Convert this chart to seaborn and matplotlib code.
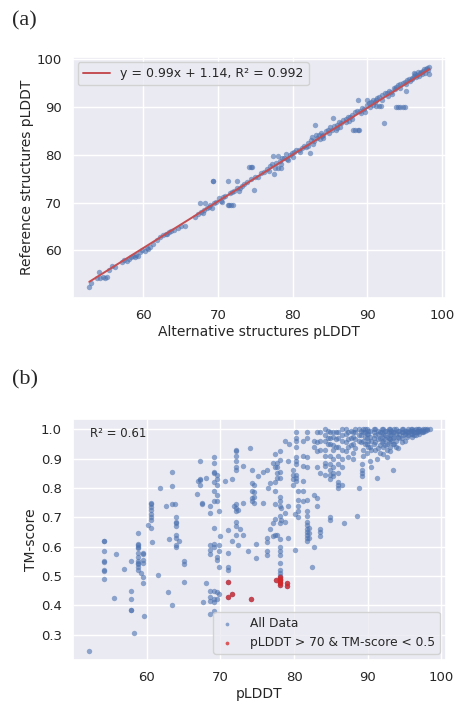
import numpy as np
import pandas as pd
import matplotlib
matplotlib.use("Agg")
import matplotlib.pyplot as plt
import seaborn as sns

# ---------------- Panel (a) data ----------------
alt_plddt = [
    52.8, 53.0, 53.8, 54.1, 54.3, 54.6, 54.9, 55.2, 55.8, 56.2,
    57.2, 57.5, 57.8, 58.1, 58.4, 58.7, 59.0, 59.3, 59.6, 59.9,
    60.2, 60.5, 60.9, 61.3, 61.8, 62.2, 62.6, 63.0, 63.4, 63.8,
    64.2, 64.7, 65.1, 65.6, 66.9, 67.3, 67.6, 67.8, 68.1, 68.3,
    68.5, 68.8, 69.0, 69.3, 69.4, 69.5, 69.8, 70.1, 70.4, 70.7,
    71.0, 71.3, 71.5, 71.7, 72.0, 71.4, 71.6, 71.9, 72.2, 72.5,
    72.6, 72.9, 73.2, 73.5, 73.9, 74.2, 74.4, 74.6, 74.5, 74.9,
    75.0, 75.4, 75.8, 76.2, 76.6, 77.0, 77.2, 77.4, 77.5, 77.8,
    78.0, 78.1, 78.3, 78.5, 78.6, 78.9, 79.1, 79.3, 79.6, 79.9,
    80.2, 80.5, 80.8, 81.2, 81.5, 81.8, 82.1, 82.3, 82.4, 82.6,
    82.8, 83.0, 83.1, 83.3, 83.5, 83.8, 84.1, 84.4, 84.7, 85.0,
    85.2, 85.4, 85.6, 85.9, 86.2, 86.5, 86.8, 87.1, 87.4, 87.7,
    87.9, 88.1, 88.4, 88.7, 88.9, 88.3, 88.6, 88.8, 89.0, 89.3,
    89.6, 89.9, 90.0, 90.2, 90.5, 90.8, 91.0, 91.2, 91.5, 91.8,
    91.3, 91.6, 91.9, 92.2, 92.3, 92.6, 92.9, 93.2, 93.5, 93.8,
    94.1, 94.4, 94.8, 95.0, 93.8, 94.1, 94.4, 94.7, 95.0, 95.1,
    95.3, 95.6, 95.9, 96.2, 96.4, 96.7, 97.0, 97.2, 97.5, 97.8,
    98.0, 98.2, 98.3, 80.1, 81.0, 82.0, 83.6, 84.0, 84.9, 85.8,
    86.4, 87.2, 88.0, 89.2, 89.7, 90.4, 91.1, 92.0, 92.8, 93.3,
    93.7, 94.3, 95.2, 95.7, 96.0, 96.5, 96.9, 97.3, 97.7, 98.1,
    96.3, 96.8, 97.6, 90.7, 87.6, 86.0, 83.9, 82.7, 79.4, 78.4,
    77.6, 76.9, 70.6, 72.8, 69.2, 68.0, 58.9, 60.7, 63.2, 55.5,
]
ref_plddt = [
    52.3, 53.2, 54.3, 55.6, 54.3, 54.4, 54.3, 54.4, 56.8, 56.5,
    57.6, 58.0, 57.7, 58.3, 58.7, 58.9, 59.1, 58.9, 59.6, 60.1,
    59.8, 60.6, 60.7, 61.4, 62.3, 62.8, 63.2, 63.5, 63.9, 64.1,
    64.3, 64.8, 65.2, 65.2, 67.1, 67.6, 70.0, 68.0, 68.4, 70.0,
    68.9, 69.2, 69.6, 74.5, 74.5, 70.0, 70.2, 71.0, 70.4, 71.2,
    71.5, 69.6, 69.6, 69.6, 69.6, 74.5, 72.0, 72.3, 72.5, 73.1,
    74.5, 73.0, 73.6, 74.0, 74.3, 77.5, 77.5, 77.5, 74.9, 72.7,
    75.3, 75.4, 76.3, 76.5, 77.0, 77.6, 78.2, 79.8, 76.1, 78.3,
    79.8, 77.3, 78.8, 78.1, 79.4, 79.3, 80.3, 79.2, 80.0, 80.4,
    80.6, 81.1, 81.0, 81.4, 81.9, 81.6, 82.6, 80.5, 83.1, 83.7,
    82.9, 86.3, 84.2, 83.5, 84.1, 84.5, 84.2, 85.0, 85.3, 85.8,
    85.2, 87.7, 86.1, 86.3, 86.8, 86.7, 87.3, 87.5, 88.0, 87.9,
    88.3, 85.2, 85.2, 85.2, 85.2, 88.9, 89.1, 91.5, 89.3, 89.8,
    89.6, 90.4, 91.5, 90.8, 91.1, 91.4, 91.0, 90.2, 90.2, 90.2,
    92.0, 92.1, 92.5, 86.6, 92.9, 93.0, 93.4, 93.2, 94.1, 90.1,
    90.1, 90.1, 90.1, 90.1, 94.2, 94.6, 94.9, 95.0, 95.3, 93.3,
    95.6, 96.0, 96.2, 96.5, 96.9, 96.8, 97.1, 97.3, 97.6, 97.9,
    98.1, 98.4, 97.0, 79.6, 80.7, 81.8, 83.3, 83.6, 84.6, 85.3,
    85.9, 86.8, 87.6, 88.8, 89.0, 90.0, 91.6, 91.6, 92.4, 92.8,
    93.9, 94.0, 94.8, 95.4, 95.8, 96.3, 96.5, 97.0, 97.2, 97.7,
    97.1, 97.4, 98.0, 90.5, 87.2, 85.6, 83.9, 82.3, 78.9, 77.2,
    77.2, 76.6, 70.2, 72.4, 68.9, 67.8, 58.7, 60.4, 63.4, 55.9,
]
fit_label = "y = 0.99x + 1.14, R\u00b2 = 0.992"

# ---------------- Panel (b) data (grouped by pLDDT column) ----------------
col_plddt = [
    52.2, 54.2, 55.6, 55.9, 56.9, 57.9, 58.3, 58.8, 59.3, 59.5,
    59.6, 60.2, 60.6, 60.8, 61.5, 61.8, 62.6, 62.9, 63.1, 63.4,
    63.8, 64.0, 64.4, 65.1, 66.8, 67.0, 67.3, 67.5, 68.0, 67.7,
    68.6, 69.1, 69.5, 69.8, 70.0, 70.7, 71.0, 71.6, 71.9, 72.2,
    72.4, 72.7, 73.1, 73.8, 74.0, 74.2, 74.3, 74.6, 74.8, 75.1,
    75.8, 76.3, 76.5, 76.8, 77.1, 77.4, 77.6, 77.7, 78.1, 78.3,
    78.8, 79.1, 79.2, 79.3, 79.8, 80.1, 80.3, 80.6, 81.2, 81.7,
    82.0, 82.4, 82.7, 83.1, 83.5, 84.2, 84.9, 85.3, 86.0, 86.5,
    86.8, 87.3, 88.0, 88.5, 88.8, 89.2, 89.4, 89.9, 90.3, 90.5,
    91.0, 91.2, 91.6, 92.1, 92.6, 93.0, 93.4, 93.8, 94.1, 94.6,
    95.0, 95.5, 96.0, 96.5, 97.0, 97.5, 98.0, 98.4,
    84.6, 85.7, 87.0, 87.7, 88.3, 89.1, 89.6, 90.1, 90.8, 91.4,
    91.9, 92.4, 92.9, 93.2, 93.6, 94.3, 94.8, 95.3, 95.8, 96.3,
    96.8, 97.3, 97.8,
]
col_tm = [
    [0.245],
    [0.62, 0.618, 0.585, 0.55, 0.548, 0.52, 0.518, 0.49],
    [0.425],
    [0.575],
    [0.525],
    [0.55, 0.45, 0.42, 0.385, 0.383],
    [0.305],
    [0.645, 0.61, 0.605, 0.60, 0.595, 0.58, 0.565, 0.55, 0.545, 0.54, 0.53, 0.52],
    [0.51],
    [0.578, 0.575, 0.555, 0.545, 0.495, 0.475],
    [0.365],
    [0.675],
    [0.75, 0.745, 0.735, 0.725, 0.71, 0.70, 0.69, 0.665],
    [0.615],
    [0.505],
    [0.80],
    [0.74],
    [0.445],
    [0.625],
    [0.855, 0.805, 0.745, 0.40],
    [0.745],
    [0.70, 0.685, 0.68, 0.67, 0.64, 0.63, 0.605, 0.60],
    [0.62],
    [0.55, 0.54, 0.48],
    [0.78],
    [0.825],
    [0.89, 0.83, 0.828, 0.81],
    [0.745, 0.75],
    [0.835, 0.475],
    [0.41],
    [0.74, 0.715, 0.605, 0.59, 0.575, 0.45, 0.43, 0.415, 0.37],
    [0.905, 0.885, 0.855, 0.85, 0.82, 0.79, 0.755, 0.665, 0.61, 0.60, 0.45, 0.42, 0.41, 0.38],
    [0.845, 0.83, 0.81, 0.775, 0.755, 0.565, 0.555, 0.445, 0.42],
    [0.72, 0.605, 0.585, 0.53, 0.44],
    [0.635],
    [0.825],
    [0.655, 0.58, 0.53, 0.52, 0.48, 0.43],
    [0.83, 0.62, 0.44],
    [0.74],
    [0.93, 0.925, 0.91, 0.89, 0.87, 0.86, 0.745, 0.73, 0.72, 0.685, 0.67, 0.64],
    [0.725, 0.605],
    [0.66],
    [0.875, 0.75, 0.64],
    [0.585],
    [0.935],
    [0.42],
    [0.86, 0.815, 0.79, 0.765, 0.755],
    [0.81, 0.785, 0.77, 0.75],
    [0.61, 0.56],
    [0.84],
    [0.855, 0.75],
    [0.86, 0.63, 0.615, 0.585, 0.57],
    [0.80],
    [0.815, 0.66],
    [0.885, 0.68, 0.635],
    [0.915, 0.87, 0.82, 0.79, 0.745, 0.695, 0.64],
    [0.488],
    [0.885, 0.87, 0.85, 0.835, 0.64],
    [0.925, 0.895, 0.855, 0.835, 0.77, 0.755, 0.74, 0.705, 0.68, 0.625, 0.60, 0.585,
     0.57, 0.545, 0.52, 0.51, 0.50, 0.495, 0.49, 0.485, 0.48, 0.475, 0.47],
    [0.73, 0.69],
    [0.96, 0.715, 0.685],
    [0.475, 0.465],
    [0.89, 0.74, 0.63],
    [0.95],
    [0.86, 0.845, 0.83, 0.81],
    [0.59, 0.71],
    [0.99, 0.97, 0.96, 0.94, 0.905, 0.89, 0.88, 0.845, 0.835, 0.825],
    [0.79, 0.76, 0.74, 0.72, 0.70],
    [0.96, 0.91, 0.875, 0.825, 0.79, 0.755],
    [0.99, 0.97, 0.905, 0.87, 0.76, 0.72, 0.705, 0.685, 0.675, 0.66, 0.65, 0.64, 0.63, 0.62],
    [0.665, 0.645, 0.63],
    [0.53],
    [0.96, 0.94, 0.775, 0.60],
    [0.99, 0.955, 0.925, 0.87, 0.765, 0.74],
    [0.99, 0.96, 0.93, 0.85, 0.66, 0.65, 0.635],
    [1.0, 0.98, 0.96, 0.93, 0.91, 0.885, 0.875, 0.845],
    [0.99, 0.97, 0.95, 0.91, 0.88, 0.86, 0.845, 0.83, 0.69, 0.70],
    [0.99, 0.975, 0.945, 0.93, 0.90, 0.87, 0.85, 0.84],
    [0.99, 0.97, 0.94, 0.91, 0.88, 0.85, 0.82, 0.81, 0.80],
    [1.0, 0.98, 0.96, 0.93, 0.90, 0.87, 0.81],
    [0.68],
    [0.99, 0.965, 0.94, 0.905],
    [0.99, 0.975, 0.95, 0.92, 0.90],
    [0.705],
    [0.80, 1.0, 0.98, 0.96],
    [0.88, 0.86, 0.85, 0.84],
    [1.0, 0.99, 0.96, 0.93, 0.91],
    [1.0, 0.985, 0.97, 0.95, 0.92],
    [0.89, 0.995, 0.975, 0.94],
    [0.87, 0.96, 0.93],
    [1.0, 0.98, 0.955, 0.93],
    [0.835, 0.90],
    [0.99, 0.97, 0.945, 0.92],
    [1.0, 0.985, 0.96, 0.94, 0.915],
    [0.995, 0.975, 0.95, 0.93, 0.905],
    [1.0, 0.98, 0.965, 0.94, 0.925],
    [0.86, 0.99, 0.97, 0.95],
    [1.0, 0.985, 0.96, 0.94],
    [0.935, 0.995, 0.975],
    [1.0, 0.99, 0.97, 0.955],
    [0.96, 0.995, 0.985],
    [1.0, 0.99, 0.98],
    [1.0, 0.995, 0.985, 0.975],
    [1.0, 0.99, 0.98],
    [1.0, 0.995, 0.985],
    [1.0, 0.995, 0.99],
    [1.0, 0.998],
    [1.0],
    [0.995, 0.97, 0.95],
    [0.99, 0.965, 0.94],
    [1.0, 0.985, 0.955, 0.925],
    [0.995, 0.97, 0.945],
    [1.0, 0.99, 0.965, 0.935],
    [0.995, 0.98, 0.955],
    [1.0, 0.99, 0.975, 0.95],
    [0.995, 0.985, 0.96, 0.94],
    [1.0, 0.99, 0.97, 0.95],
    [0.995, 0.985, 0.965, 0.935],
    [1.0, 0.99, 0.975, 0.955],
    [0.995, 0.98, 0.965, 0.945],
    [1.0, 0.99, 0.97, 0.955],
    [0.995, 0.985, 0.96],
    [1.0, 0.99, 0.975, 0.95],
    [0.995, 0.985, 0.97],
    [1.0, 0.99, 0.98],
    [0.995, 0.99, 0.975],
    [1.0, 0.995, 0.985],
    [0.998, 0.99, 0.98],
    [1.0, 0.995, 0.99],
    [0.998, 0.99],
    [1.0, 0.995],
]
r2_text = "R\u00b2 = 0.61"
all_label = "All Data"
sub_label = "pLDDT > 70 & TM-score < 0.5"

# ---------------- Build tables ----------------
df_a = pd.DataFrame({"alt": alt_plddt, "ref": ref_plddt})
rows = [(x, t) for x, ts in zip(col_plddt, col_tm) for t in ts]
df_b = pd.DataFrame(rows, columns=["plddt", "tm"])
df_sub = df_b[(df_b["plddt"] > 70) & (df_b["tm"] < 0.5)]

sns.set_theme(style="darkgrid")
plt.rcParams["font.family"] = ["DejaVu Sans"]

blue = "#4C72B0"
fig = plt.figure(figsize=(4.55, 7.04), dpi=100)
ax1 = fig.add_axes([0.160, 0.577, 0.820, 0.342])
ax2 = fig.add_axes([0.160, 0.0625, 0.820, 0.3425])

# Panel (a)
sns.scatterplot(data=df_a, x="alt", y="ref", ax=ax1, color=blue, alpha=0.6,
                s=15, linewidth=0, legend=False)
sns.regplot(data=df_a, x="alt", y="ref", ax=ax1, scatter=False, ci=None,
            color="#C44E52", line_kws={"linewidth": 1.4}, label=fit_label)
ax1.set_xticks([60, 70, 80, 90, 100])
ax1.set_yticks([60, 70, 80, 90, 100])
ax1.set_xlim(50.6, 100.5)
ax1.set_ylim(50.1, 100.5)
ax1.set_xlabel("Alternative structures pLDDT", fontsize=10, labelpad=2)
ax1.set_ylabel("Reference structures pLDDT", fontsize=10, labelpad=2)
ax1.tick_params(labelsize=9.5, pad=2)
ax1.legend(loc="upper left", fontsize=9.0, handlelength=2.2, borderaxespad=0.4)

# Panel (b)
sns.scatterplot(data=df_b, x="plddt", y="tm", ax=ax2, color=blue, alpha=0.6,
                s=15, linewidth=0, label=all_label)
sns.scatterplot(data=df_sub, x="plddt", y="tm", ax=ax2, color="#d62728",
                alpha=0.75, s=15, linewidth=0, label=sub_label)
ax2.set_xticks([60, 70, 80, 90, 100])
ax2.set_yticks([0.3, 0.4, 0.5, 0.6, 0.7, 0.8, 0.9, 1.0])
ax2.set_xlim(50.0, 100.6)
ax2.set_ylim(0.214, 1.035)
ax2.set_xlabel("pLDDT", fontsize=10, labelpad=2)
ax2.set_ylabel("TM-score", fontsize=10, labelpad=2)
ax2.tick_params(labelsize=9.5, pad=2)
ax2.text(0.045, 0.94, r2_text, transform=ax2.transAxes, fontsize=8.5,
         va="center", ha="left", color="#262626")
ax2.legend(loc="lower right", fontsize=8.8, markerscale=0.7,
           borderaxespad=0.5, handlelength=1.4, handletextpad=1.2)

# Panel letters
fig.text(0.026, 0.9645, "(a)", fontsize=16, family="Liberation Serif",
         va="baseline", ha="left")
fig.text(0.026, 0.4545, "(b)", fontsize=16, family="Liberation Serif",
         va="baseline", ha="left")

fig.savefig("out.png", dpi=100)
